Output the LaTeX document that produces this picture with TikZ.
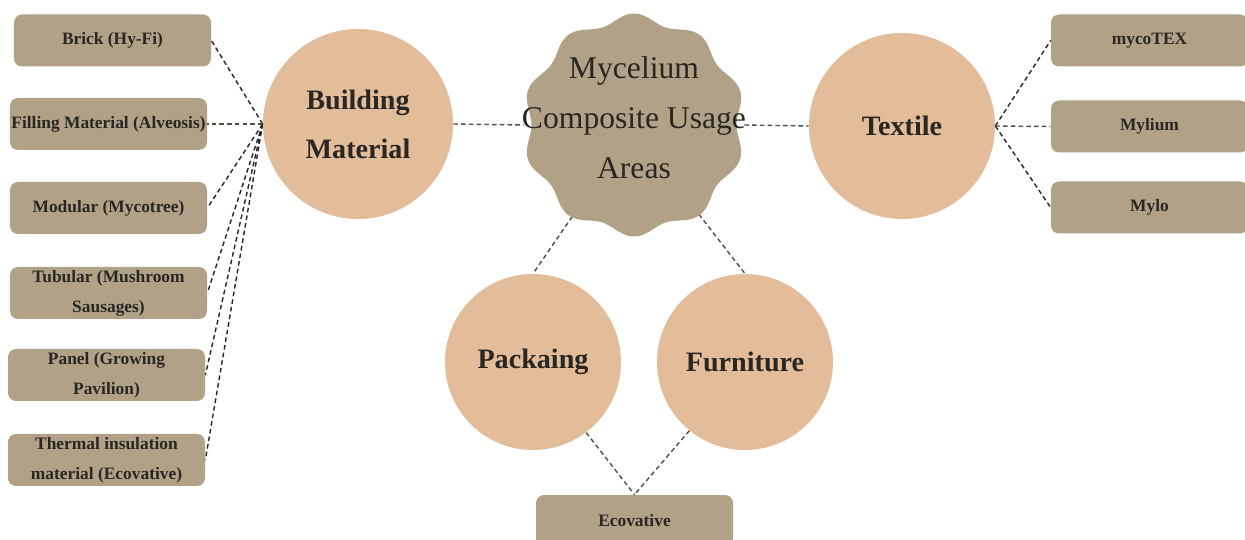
\documentclass[tikz,border=0pt]{standalone}
\usepackage{fontspec}
\setmainfont{Liberation Serif}
\usepackage{xcolor}
\usetikzlibrary{positioning,backgrounds}
\definecolor{tanfill}{HTML}{B1A287}
\definecolor{peach}{HTML}{E3BC99}
\definecolor{inkdark}{HTML}{2A2622}
\definecolor{olivelink}{HTML}{4A5240}
\begin{document}
\begin{tikzpicture}[
    item/.style={
        fill=tanfill,
        rounded corners=1.6mm,
        minimum width=3.94cm,
        minimum height=1.04cm,
        inner sep=0pt,
        align=center,
        text=inkdark,
        font=\fontsize{9.9}{17}\selectfont\bfseries
    },
    area/.style={
        circle,
        fill=peach,
        inner sep=0pt,
        align=center,
        text=inkdark,
        font=\fontsize{16}{28}\selectfont\bfseries
    },
    hub/.style={
        circle,
        minimum size=4.4cm,
        inner sep=0pt
    },
    hubtext/.style={
        inner sep=0pt,
        align=center,
        text=inkdark,
        font=\fontsize{18}{28.5}\selectfont
    },
    link/.style={draw=black!85, line width=0.8pt, dash pattern=on 2.6pt off 1.8pt},
    link2/.style={draw=olivelink, line width=0.8pt, dash pattern=on 2.6pt off 1.8pt}
]
\useasboundingbox (0,0) rectangle (24.9,-10.8);

% centre shape
\coordinate (mid) at (12.68,-2.5);
\fill[tanfill, shift={(mid)}] plot[domain=0:360, samples=241, smooth]
    (\x:{2.14+0.09*cos(10*(\x-90))}) -- cycle;
\node[hub] (core) at (mid) {};
\node[hubtext] (coretext) at ([yshift=0.14cm]mid) {Mycelium\\Composite Usage\\Areas};

% main areas
\node[area, minimum size=3.8cm] (build) at (7.16,-2.48) {Building\\Material};
\node[area, minimum size=3.72cm] (textile) at (18.04,-2.52) {Textile};
\node[area, minimum size=3.52cm] (pack) at (10.66,-7.24) {Packaing};
\node[area, minimum size=3.52cm] (furn) at (14.9,-7.24) {Furniture};

% building material items
\node[item] (brick) at (2.25,-0.81) {Brick (Hy-Fi)};
\node[item] (fill) at (2.17,-2.48) {Filling Material (Alveosis)};
\node[item] (modular) at (2.17,-4.16) {Modular (Mycotree)};
\node[item] (tubular) at (2.17,-5.86) {Tubular (Mushroom\\Sausages)};
\node[item] (panel) at (2.13,-7.5) {Panel (Growing\\Pavilion)};
\node[item] (thermal) at (2.13,-9.2) {Thermal insulation\\material (Ecovative)};

% textile items
\node[item] (mycotex) at (22.99,-0.81) {mycoTEX};
\node[item] (mylium) at (22.99,-2.53) {Mylium};
\node[item] (mylo) at (22.99,-4.15) {Mylo};

% packaging / furniture item
\node[item] (ecov) at (12.69,-10.42) {Ecovative};

\begin{scope}[on background layer]
\draw[link] (build.west) -- (brick.east);
\draw[link2] (build.west) -- (fill.east);
\draw[link] (build.west) -- (modular.east);
\draw[link] (build.west) -- (tubular.east);
\draw[link] (build.west) -- (panel.east);
\draw[link] (build.west) -- (thermal.east);
\draw[link2] (build.east) -- (core.west);
\draw[link2] (core.east) -- (textile.west);
\draw[link] (textile.east) -- (mycotex.west);
\draw[link2] (textile.east) -- (mylium.west);
\draw[link] (textile.east) -- (mylo.west);
\draw[link2] (core.-124) -- (pack.north);
\draw[link2] (core.-54) -- (furn.north);
\draw[link2] (pack.-53) -- (ecov.north);
\draw[link2] (furn.-129) -- (ecov.north);
\end{scope}
\end{tikzpicture}
\end{document}
